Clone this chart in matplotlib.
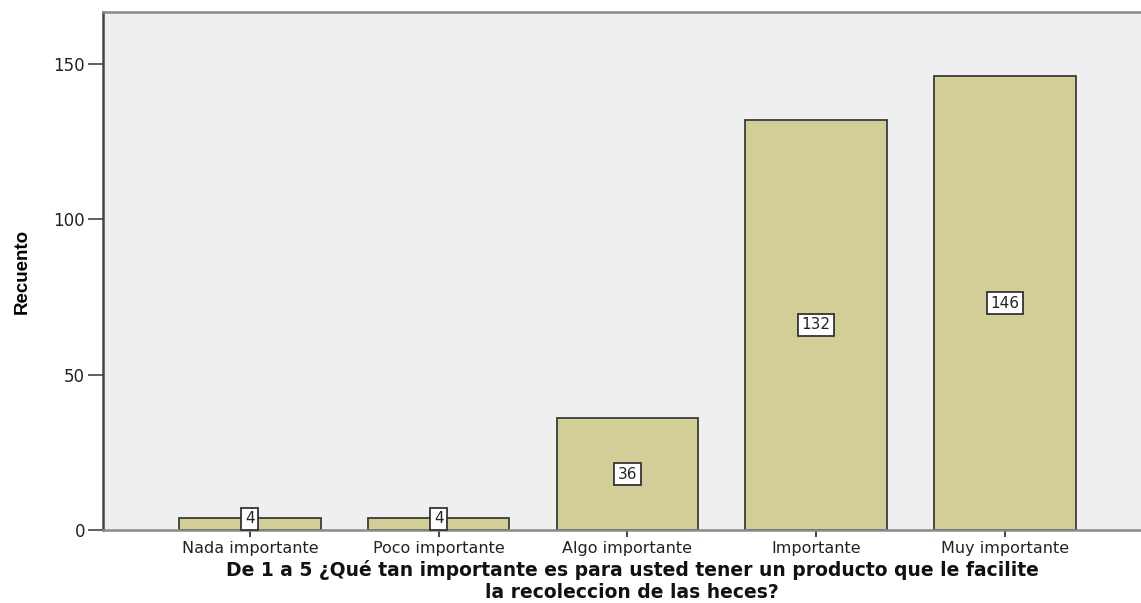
import matplotlib.pyplot as plt
import numpy as np

categories = ['Nada importante', 'Poco importante', 'Algo importante',
              'Importante', 'Muy importante']
counts = [4, 4, 36, 132, 146]
y_ticks = [0, 50, 100, 150]
title_lines = ['De 1 a 5 \u00bfQu\u00e9 tan importante es para usted tener un producto que le facilite',
               'la recoleccion de las heces?']

BAR_COLOR = '#d3ce97'
EDGE_COLOR = '#3c3c3c'
BG_COLOR = '#efefef'

fig = plt.figure(figsize=(11.41, 6.03), dpi=100)
ax = fig.add_axes([103 / 1141, 1 - 530 / 603, 1 - 103 / 1141, 518 / 603])
ax.set_facecolor(BG_COLOR)

x = np.arange(len(categories))
ax.bar(x, counts, width=0.75, color=BAR_COLOR, edgecolor=EDGE_COLOR, linewidth=1.3, zorder=2)

# count labels in boxes at mid height, kept above the baseline for short bars
for xi, v in zip(x, counts):
    ax.text(xi, max(v / 2, 3.6), str(v), ha='center', va='center', fontsize=11,
            family='DejaVu Sans', color='#222222', zorder=3,
            bbox=dict(boxstyle='square,pad=0.24', fc='white', ec='#333333', lw=1.3))

ax.set_xlim(-0.778, 4.72)
ax.set_ylim(0, 166.7)
ax.set_xticks(x)
ax.set_xticklabels(categories, fontsize=11.5, family='DejaVu Sans', color='#222222')
ax.set_yticks(y_ticks)
ax.set_yticklabels([str(t) for t in y_ticks], fontsize=12, family='DejaVu Sans', color='#222222')
ax.tick_params(axis='y', length=11, width=1.2, color='#444444', pad=2)
ax.tick_params(axis='x', length=5, width=1.4, color='#444444', pad=3)

ax.spines['left'].set_color('#444444')
ax.spines['left'].set_linewidth(1.8)
ax.spines['top'].set_color('#8a8a8a')
ax.spines['top'].set_linewidth(1.8)
ax.spines['bottom'].set_color('#8a8a8a')
ax.spines['bottom'].set_linewidth(1.8)
ax.spines['right'].set_visible(False)

ax.set_ylabel('Recuento', fontsize=13.5, fontweight='bold', family='Liberation Sans')
ax.yaxis.set_label_coords(-72 / 1038, 0.5)

# two-line axis title below the category labels
for i, line in enumerate(title_lines):
    fig.text(632 / 1141, 1 - (570 + 22 * i) / 603, line, ha='center', va='center',
             fontsize=13.5, fontweight='bold', family='DejaVu Sans', color='#111111')

fig.savefig('out.png', dpi=100)
